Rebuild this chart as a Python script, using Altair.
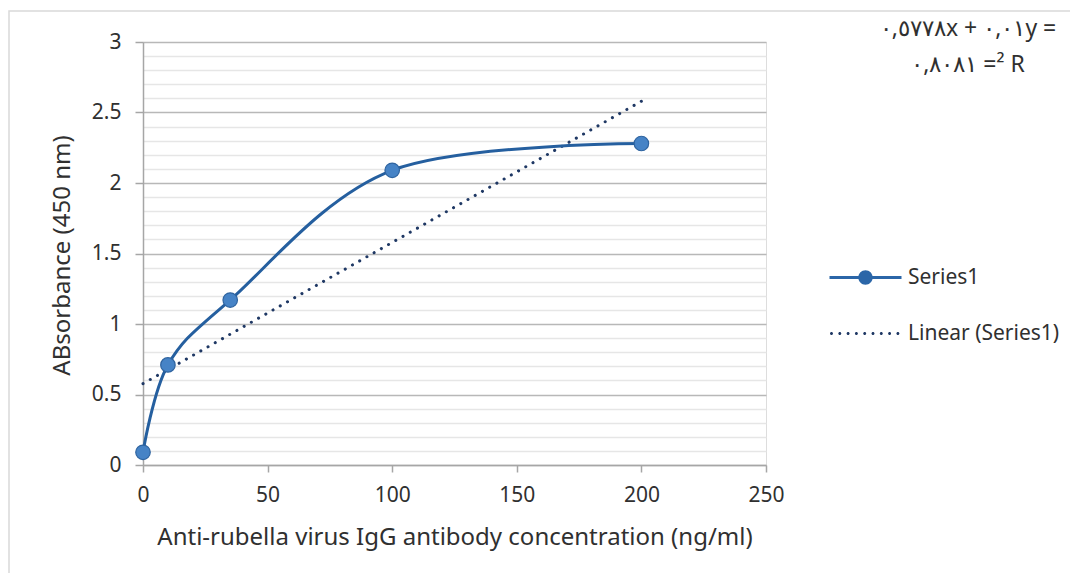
import altair as alt
import pandas as pd

# ---- data ----
conc = [0, 10, 35, 100, 200]
absorbance = [0.09, 0.71, 1.17, 2.09, 2.28]
series_names = ["Series1", "Linear (Series1)"]
trend_extent = [0, 200]
x_ticks = [0, 50, 100, 150, 200, 250]
y_ticks = [round(i * 0.1, 1) for i in range(31)]
eq_line1 = "٠,٥٧٧٨x + ٠,٠١y ="
eq_line2 = "٠,٨٠٨١ =² R"
x_title = "Anti-rubella virus IgG antibody concentration (ng/ml)"
y_title = "ABsorbance (450 nm)"

FONT = "Noto Sans"
TXT = "#303030"
LINE_C = "#255f9f"
PT_FILL = "#4683c6"
PT_STROKE = "#2f64a0"
TREND_C = "#1f3864"
AXIS_C = "#a6a6a6"

df = pd.DataFrame({"conc": conc, "abs": absorbance})
legend_df = pd.DataFrame({"series": series_names, "conc": [0, 0], "abs": [0, 0]})
frame_df = pd.DataFrame({"k": [0]})

major = "round(datum.value * 10) % 5 === 0"

x_enc = alt.X(
    "conc:Q",
    scale=alt.Scale(domain=[0, 250], nice=False),
    axis=alt.Axis(
        values=x_ticks, grid=False, title=x_title, format="d", labelFlush=False,
        domainColor=AXIS_C, domainWidth=1.5, tickColor=AXIS_C, tickWidth=1.5,
        tickSize=7, labelPadding=12, labelFont=FONT, labelFontSize=21,
        labelColor=TXT, titleFont=FONT, titleFontSize=24, titleFontWeight="normal",
        titleColor=TXT, titleY=72, titleBaseline="middle",
    ),
)
y_enc = alt.Y(
    "abs:Q",
    scale=alt.Scale(domain=[0, 3], nice=False),
    axis=alt.Axis(
        values=y_ticks, title=y_title, labelFlush=False,
        gridColor={"condition": {"test": major, "value": "#b8b8b8"}, "value": "#e6e6e6"},
        gridWidth=1.5,
        tickColor={"condition": {"test": major, "value": AXIS_C}, "value": "transparent"},
        tickWidth=1.5, tickSize=8,
        labelExpr=f"{major} ? format(datum.value, '~g') : ''",
        domainColor=AXIS_C, domainWidth=1.5, labelPadding=14,
        labelFont=FONT, labelFontSize=21, labelColor=TXT,
        titleFont=FONT, titleFontSize=24, titleFontWeight="normal", titleColor=TXT,
        titleX=-81, titleY=213, titleAlign="center", titleBaseline="middle", titleAngle=270,
    ),
)

frame = alt.Chart(frame_df).mark_rect(
    fill="transparent", stroke="#d9d9d9", strokeWidth=1.5
).encode(
    x=alt.value(-134), x2=alt.value(960), y=alt.value(-31), y2=alt.value(560)
)

trend = alt.Chart(df).transform_regression(
    "conc", "abs", extent=trend_extent
).mark_line(
    color=TREND_C, strokeWidth=3, strokeDash=[0.1, 8.2], strokeCap="round"
).encode(x=x_enc, y=y_enc)

curve = alt.Chart(df).mark_line(
    color=LINE_C, strokeWidth=3, interpolate="cardinal"
).encode(x=x_enc, y=y_enc)

points = alt.Chart(df).mark_point(
    filled=True, fill=PT_FILL, stroke=PT_STROKE, strokeWidth=1.2, size=210, opacity=1
).encode(x=x_enc, y=y_enc)

# legend symbols (custom paths, unit = sqrt(size)/2 px)
path_s1 = ("M-3.6,-0.15H3.6V0.15H-3.6Z "
           "M-0.72,0A0.72,0.72 0 1,1 0.72,0A0.72,0.72 0 1,1 -0.72,0Z")
dots = []
for i in range(9):
    cx = -3.4 + i * 0.83
    dots.append(f"M{cx-0.15:.3f},0A0.15,0.15 0 1,1 {cx+0.15:.3f},0A0.15,0.15 0 1,1 {cx-0.15:.3f},0Z")
path_lin = " ".join(dots)

leg = alt.Legend(
    orient="none", legendX=712, legendY=225, title=None, padding=0,
    symbolSize=400, symbolStrokeWidth=0, labelOffset=32, rowPadding=34,
    labelFont=FONT, labelFontSize=21, labelColor=TXT, labelBaseline="middle",
)
legend_layer = alt.Chart(legend_df).transform_filter("false").mark_point(
    filled=True, opacity=1
).encode(
    x=x_enc, y=y_enc,
    shape=alt.Shape("series:N", scale=alt.Scale(domain=series_names, range=[path_s1, path_lin]), legend=leg),
    color=alt.Color("series:N", scale=alt.Scale(domain=series_names, range=["#2b66a8", TREND_C]), legend=leg),
)

chart = alt.layer(frame, trend, curve, points, legend_layer).properties(
    width=623,
    height=423,
    autosize=alt.AutoSizeParams(type="none"),
    padding={"left": 135, "top": 34, "right": 304, "bottom": 108},
    title=alt.TitleParams(
        text=[eq_line1, eq_line2], anchor="end", frame="group", align="center",
        orient="top", offset=0, dx=202, dy=67, baseline="top", lineHeight=36,
        font=FONT, fontSize=23, fontWeight="normal", color=TXT,
    ),
).configure_view(stroke=None).configure(background="white")

chart.save("out.html", embed_options={"renderer": "svg", "actions": False})
